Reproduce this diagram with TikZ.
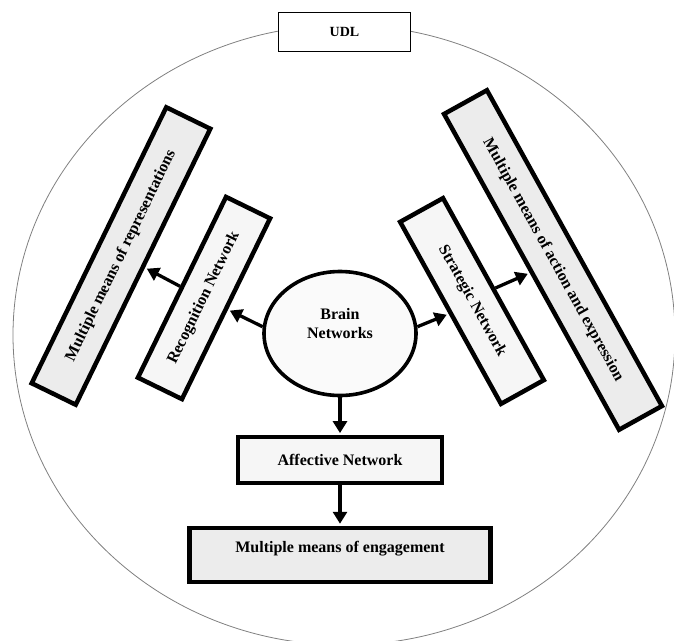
\documentclass[tikz,border=0pt]{standalone}
\usepackage{fontspec}
\setmainfont{Liberation Serif}
\usepackage{xcolor}
\usetikzlibrary{arrows.meta,shapes.geometric}
\definecolor{meansgray}{HTML}{ECECEC}
\definecolor{netgray}{HTML}{F6F6F6}
\definecolor{braingray}{HTML}{FAFAFA}

\begin{document}
\begin{tikzpicture}[x=1pt,y=1pt,
  every node/.style={font=\fontsize{16}{19}\selectfont\bfseries},
  means/.style={draw,line width=4.5pt,fill=meansgray,minimum height=49pt,inner sep=0pt},
  net/.style={draw,line width=4.5pt,fill=netgray,minimum height=49pt,inner sep=0pt},
  arr/.style={line width=3.3pt,shorten >=2pt,-{Triangle[length=12pt,width=14pt]}}]
\useasboundingbox (0,0) rectangle (674,-640);
\draw[gray,line width=0.8pt] (344,-335) ellipse [x radius=331, y radius=310];
\node[draw,fill=white,line width=0.9pt,minimum width=132pt,minimum height=39pt,font=\fontsize{14}{16}\selectfont\bfseries](udl) at (344.5,-32){UDL};
\node[ellipse,draw,line width=3.6pt,fill=braingray,minimum width=152pt,minimum height=124pt,inner sep=0pt,
  label={[align=center,yshift=10pt]center:Brain\\Networks}](brain) at (340,-333.5){};
\node[net,minimum width=201pt,rotate=64](recog) at (204,-298){Recognition Network};
\node[means,minimum width=307pt,rotate=64](repr) at (121,-256){Multiple means of representations};
\node[net,minimum width=208pt,rotate=-61](strat) at (472,-301){Strategic Network};
\node[means,minimum width=361pt,rotate=-61](act) at (553,-260){Multiple means of action and expression};
\node[net,line width=3.8pt,minimum width=204pt,minimum height=46pt](aff) at (340,-460){Affective Network};
\node[means,minimum width=301pt,minimum height=54pt,text depth=17pt](engage) at (340,-555){Multiple means of engagement};
\draw[arr] (brain.175) -- (recog.south);
\draw[arr] (recog.north) -- (repr.south);
\draw[arr] (brain.5) -- (strat.south);
\draw[arr] (strat.north) -- (act.south);
\draw[arr] (brain.south) -- (aff.north);
\draw[arr] (aff.south) -- (engage.north);
\end{tikzpicture}
\end{document}
